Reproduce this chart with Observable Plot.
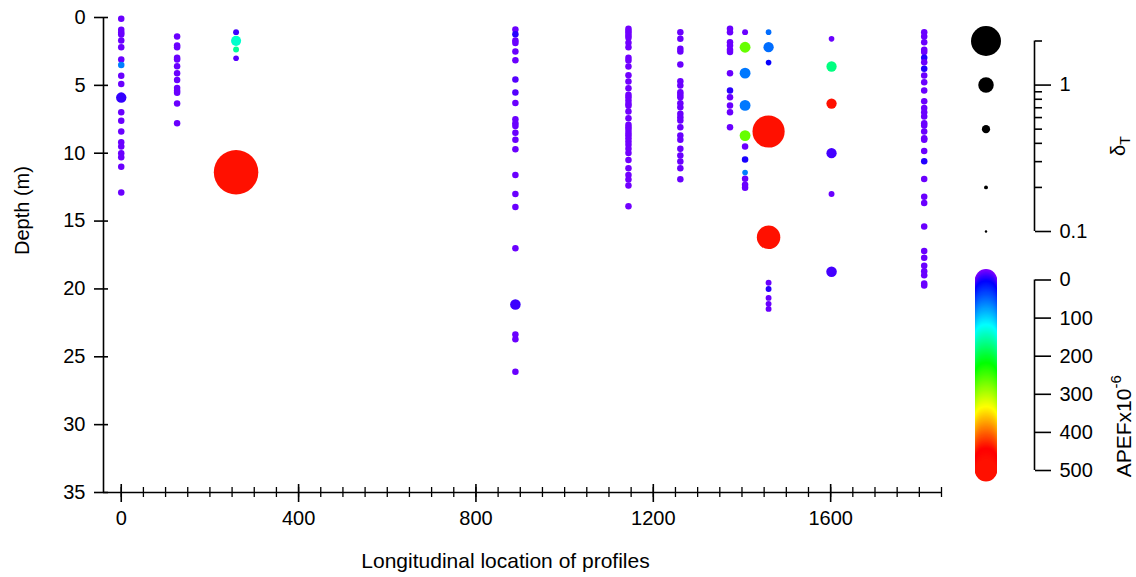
<!DOCTYPE html>
<html><head><meta charset="utf-8">
<script src="https://cdn.jsdelivr.net/npm/d3@7"></script>
<script src="https://cdn.jsdelivr.net/npm/@observablehq/plot@0.6"></script>
<style>
body{margin:0;background:#fff}
#wrap{position:relative;width:1136px;height:577px}
#wrap svg{position:absolute;overflow:visible}
</style>
</head><body><div id="wrap"></div>
<script>
// Longitudinal location of each profile
const profileX = [0, 126, 259, 889, 1144, 1261, 1373, 1407, 1460, 1602, 1811];

// Each profile: [depth (m), APEF x10^-6, deltaT]
const prof0 = [[0.1,5,.38],[0.9,5,.38],[1.1,5,.38],[1.25,5,.38],[1.7,5,.38],[2.2,5,.38],[3.1,5,.38],[3.5,87,.38],[4.3,5,.38],[4.9,5,.38],[5.9,18,.65],[6.98,5,.38],[7.6,5,.38],[8.4,5,.38],[9.2,5,.38],[9.5,5,.38],[10.0,5,.38],[10.3,5,.38],[11.0,5,.38],[12.9,5,.38]];
const prof126 = [[1.4,5,.38],[2.06,5,.38],[2.2,5,.38],[2.97,5,.38],[3.1,5,.38],[3.6,5,.38],[4.1,5,.38],[4.6,5,.38],[5.2,5,.38],[5.4,5,.38],[5.55,5,.38],[6.34,5,.38],[7.8,5,.38]];
const prof259 = [[1.08,15,.34],[1.72,165,.63],[2.36,185,.34],[3.0,9,.32],[11.4,500,3.0]];
const prof889 = [[0.88,5,.38],[1.23,21,.38],[1.7,5,.38],[1.87,5,.38],[2.5,5,.38],[3.15,5,.38],[4.57,10,.38],[5.53,10,.38],[6.3,5,.38],[7.5,5,.38],[7.8,5,.38],[8.0,5,.38],[8.5,5,.38],[9.0,5,.38],[9.7,5,.38],[11.6,5,.38],[13.0,5,.38],[13.97,5,.38],[17.0,5,.38],[21.15,16,.66],[23.36,5,.38],[23.7,5,.38],[26.1,5,.38]];
const prof1144 = [[0.83,3,.38],[1.0,3,.38],[1.15,3,.38],[1.33,3,.38],[1.5,3,.38],[1.86,3,.38],[2.19,3,.38],[2.97,3,.38],[3.17,3,.38],[3.61,3,.38],[4.25,3,.38],[4.72,3,.38],[5.21,3,.38],[5.7,3,.38],[5.87,3,.38],[6.12,3,.38],[6.36,3,.38],[6.51,3,.38],[6.93,3,.38],[7.42,3,.38],[7.91,3,.38],[8.09,3,.38],[8.28,3,.38],[8.5,3,.38],[8.67,3,.38],[8.89,3,.38],[9.13,3,.38],[9.38,3,.38],[9.67,3,.38],[9.99,3,.38],[10.5,3,.38],[11.1,3,.38],[11.6,3,.38],[11.94,3,.38],[12.38,3,.38],[13.9,3,.38]];
const prof1261 = [[1.08,5,.38],[1.57,5,.38],[2.31,5,.38],[2.5,5,.38],[3.46,5,.38],[4.69,5,.38],[5.01,5,.38],[5.5,5,.38],[5.7,5,.38],[5.87,5,.38],[6.31,5,.38],[6.61,5,.38],[7.1,5,.38],[7.35,5,.38],[7.59,5,.38],[8.08,5,.38],[8.7,5,.38],[9.01,5,.38],[9.68,5,.38],[10.17,5,.38],[10.61,5,.38],[11.1,5,.38],[11.92,5,.38]];
const prof1373 = [[0.83,5,.38],[1.08,5,.38],[1.82,5,.38],[2.06,5,.38],[2.38,5,.38],[2.55,5,.38],[4.1,5,.38],[5.38,20,.38],[5.87,5,.38],[6.48,5,.38],[6.98,5,.38],[8.08,5,.38]];
const prof1407 = [[1.08,5,.34],[2.19,291,.68],[4.1,84,.68],[6.48,84,.68],[8.7,291,.68],[9.5,5,.38],[10.46,24,.38],[11.42,87,.32],[11.89,5,.38],[12.33,5,.38],[12.55,5,.38]];
const prof1460 = [[1.08,79,.32],[2.19,79,.64],[3.32,28,.32],[8.4,500,2.15],[16.2,500,1.55],[19.55,5,.34],[20.0,20,.34],[20.66,5,.34],[21.1,5,.34],[21.47,5,.34]];
const prof1602 = [[1.57,5,.32],[3.61,195,.64],[6.34,500,.64],[10.0,14,.64],[13.0,5,.34],[18.74,14,.66]];
const prof1811 = [[1.08,5,.38],[1.4,5,.38],[1.82,5,.38],[2.38,5,.38],[2.55,5,.38],[2.97,22,.38],[3.3,5,.38],[3.78,22,.38],[4.27,5,.38],[4.77,5,.38],[5.38,5,.38],[6.17,5,.38],[6.66,5,.38],[6.98,5,.38],[7.3,5,.38],[7.79,5,.38],[7.96,5,.38],[8.4,5,.38],[8.9,5,.38],[9.0,5,.38],[9.83,5,.38],[10.6,22,.38],[11.9,5,.38],[13.2,5,.38],[13.66,5,.38],[15.4,5,.38],[17.2,5,.38],[17.7,5,.38],[18.3,5,.38],[18.7,5,.38],[19.0,5,.38],[19.6,5,.38],[19.75,5,.38]];
const profiles = [prof0, prof126, prof259, prof889, prof1144, prof1261, prof1373, prof1407, prof1460, prof1602, prof1811];

// Axes / legends
const xDomain = [-40, 1850];
const yDomain = [0, 35];
const xMajorTicks = [0, 400, 800, 1200, 1600];
const xMinorTicks = [0,50,100,150,200,250,300,350,400,450,500,550,600,650,700,750,800,850,900,950,1000,1050,1100,1150,1200,1250,1300,1350,1400,1450,1500,1550,1600,1650,1700,1750,1800,1850];
const yTicks = [0, 5, 10, 15, 20, 25, 30, 35];
const sizeKeys = [2, 1, 0.5, 0.2, 0.1];
const sizeMajorTicks = [0.1, 1];
const sizeMinorTicks = [0.2, 0.3, 0.4, 0.5, 0.6, 0.7, 0.8, 0.9, 2];
const apefTicks = [0, 100, 200, 300, 400, 500];
const apefStops = [0, 30, 145, 245, 360, 470, 500];
const apefColors = ["#7f00ff", "#0000ff", "#00ffff", "#00ff00", "#ffff00", "#ff0000", "#ff1000"];
const apefRamp = d3.range(0, 501, 2);

const points = profileX.flatMap((x, i) => profiles[i].map(([depth, apef, delta]) => ({x, depth, apef, delta})));

const font = '"Liberation Sans", Arial, Helvetica, sans-serif';
const colorScale = {type: "linear", domain: apefStops, range: apefColors, interpolate: "rgb"};
const rScale = {type: "linear", domain: [0, 2], range: [0.5, 15]};
const plain = d => String(d);
const wrap = document.getElementById("wrap");

const main = Plot.plot({
  width: 1136, height: 577,
  marginLeft: 103, marginRight: 195, marginTop: 17, marginBottom: 85,
  style: {fontFamily: font, background: "transparent", color: "black"},
  x: {domain: xDomain},
  y: {domain: yDomain, reverse: true},
  r: rScale,
  color: colorScale,
  marks: [
    Plot.ruleX([xDomain[0]], {stroke: "black", strokeWidth: 1.6}),
    Plot.ruleY([yDomain[1]], {stroke: "black", strokeWidth: 1.6}),
    Plot.axisY(yTicks, {anchor: "left", tickSize: 9, tickPadding: 9, fontSize: 20, tickFormat: plain, label: null, strokeWidth: 1.6}),
    Plot.axisY(yTicks, {anchor: "left", tickSize: -5, text: null, label: null, strokeWidth: 1.6}),
    Plot.axisX(xMajorTicks, {anchor: "bottom", tickSize: 10, tickPadding: 8, fontSize: 20, tickFormat: plain, label: null, strokeWidth: 1.6}),
    Plot.axisX(xMajorTicks, {anchor: "bottom", tickSize: -8, text: null, label: null, strokeWidth: 1.6}),
    Plot.axisX(xMinorTicks, {anchor: "bottom", tickSize: 5, text: null, label: null, strokeWidth: 1.3}),
    Plot.axisX(xMinorTicks, {anchor: "bottom", tickSize: -5, text: null, label: null, strokeWidth: 1.3}),
    Plot.dot(points, {x: "x", y: "depth", r: "delta", fill: "apef"}),
    Plot.text(["Depth (m)"], {frameAnchor: "left", rotate: -90, dx: -81, fontSize: 20}),
    Plot.text(["Longitudinal location of profiles"], {frameAnchor: "bottom", dy: 75, dx: -17, fontSize: 21})
  ]
});
main.style.left = "0px"; main.style.top = "0px";
wrap.appendChild(main);

const sizeLegend = Plot.plot({
  width: 200, height: 260,
  marginLeft: 0, marginRight: 103, marginTop: 40.5, marginBottom: 29,
  style: {fontFamily: font, background: "transparent", color: "black"},
  x: {domain: [0, 1], axis: null},
  y: {type: "log", domain: [0.1, 2]},
  r: rScale,
  marks: [
    Plot.dot(sizeKeys, {y: d => d, r: d => d, fill: "black"}),
    Plot.ruleX([1], {stroke: "black", strokeWidth: 1.6}),
    Plot.axisY(sizeMajorTicks, {anchor: "right", tickSize: 16, tickPadding: 9, fontSize: 20, tickFormat: plain, label: null, strokeWidth: 1.6}),
    Plot.axisY(sizeMinorTicks, {anchor: "right", tickSize: 7, text: null, label: null, strokeWidth: 1.6}),
    Plot.text(["δ"], {frameAnchor: "right", dx: 84, rotate: -90, fontSize: 20})
  ]
});
sizeLegend.style.left = "937px"; sizeLegend.style.top = "0px";
wrap.appendChild(sizeLegend);
d3.select(sizeLegend).selectAll("text").filter(function() { return this.textContent === "δ"; })
  .append("tspan").attr("dy", 5).attr("font-size", 14).text("T");

const colorLegend = Plot.plot({
  width: 200, height: 250,
  marginLeft: 0, marginRight: 103, marginTop: 29.5, marginBottom: 30,
  style: {fontFamily: font, background: "transparent", color: "black"},
  x: {domain: [0, 1], axis: null},
  y: {domain: [0, 500], reverse: true},
  color: colorScale,
  marks: [
    Plot.dot(apefRamp, {y: d => d, r: 11, fill: d => d}),
    Plot.ruleX([1], {stroke: "black", strokeWidth: 1.6}),
    Plot.axisY(apefTicks, {anchor: "right", tickSize: 16, tickPadding: 9, fontSize: 20, tickFormat: plain, label: null, strokeWidth: 1.6}),
    Plot.text(["APEFx10"], {frameAnchor: "right", dx: 90, rotate: -90, fontSize: 21})
  ]
});
colorLegend.style.left = "937px"; colorLegend.style.top = "250px";
wrap.appendChild(colorLegend);
d3.select(colorLegend).selectAll("text").filter(function() { return this.textContent === "APEFx10"; })
  .append("tspan").attr("dy", -10).attr("font-size", 15).text("-6");
</script>
</body></html>
